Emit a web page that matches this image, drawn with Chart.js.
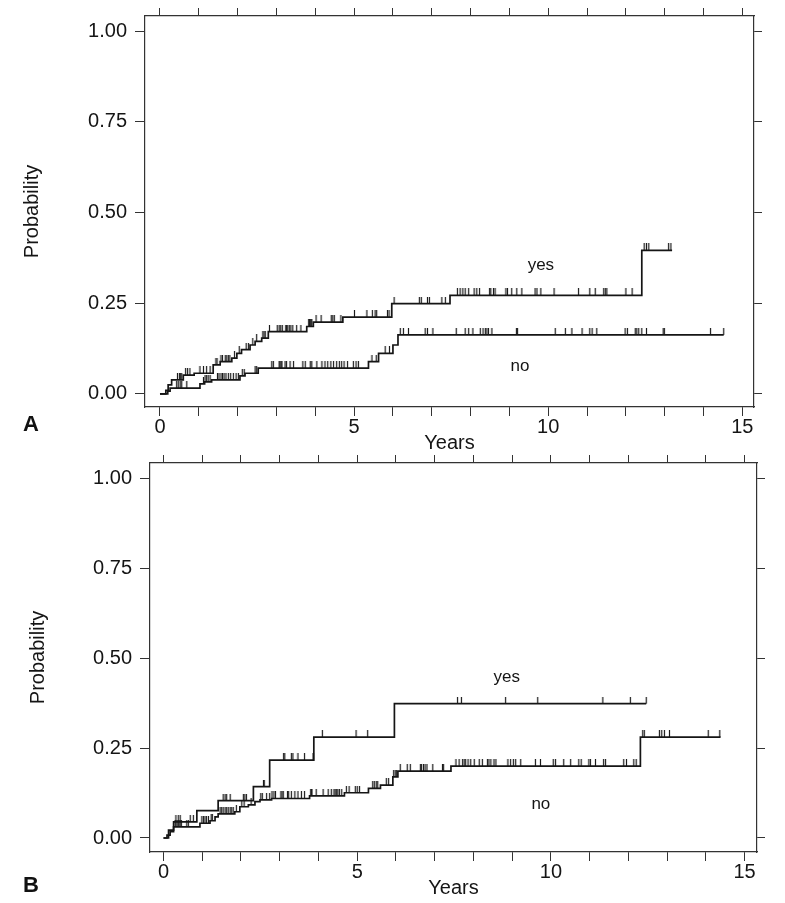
<!DOCTYPE html>
<html>
<head>
<meta charset="utf-8">
<script src="https://cdn.jsdelivr.net/npm/chart.js@4/dist/chart.umd.min.js"></script>
<style>
  body { margin: 0; background: #fff; }
  #wrap { position: relative; width: 785px; height: 903px; overflow: hidden; }
  canvas { position: absolute; left: 0; }
  .panel-tag { position: absolute; font: bold 22px "Liberation Sans", Arial, sans-serif; color: #111; }
</style>
</head>
<body>
<div id="wrap">
  <canvas id="chartA" width="785" height="456" style="top:0px"></canvas>
  <canvas id="chartB" width="785" height="467" style="top:436px"></canvas>
  <div class="panel-tag" style="left:23px; top:411px;">A</div>
  <div class="panel-tag" style="left:23px; top:872px;">B</div>
</div>
<script>
"use strict";

// axis ticks
const yearTicks = [0, 1, 2, 3, 4, 5, 6, 7, 8, 9, 10, 11, 12, 13, 14, 15];
const probTicks = [0, 0.25, 0.5, 0.75, 1];

// Panel A, "yes" group: step times and cumulative probability
const aYesTimes = [0, 0.15, 0.21, 0.30, 0.60, 0.88, 1.37, 1.55, 1.85, 1.98, 2.10, 2.32, 2.45, 2.62, 2.79, 3.78, 3.95, 4.71, 5.97, 7.47, 12.41, 13.19];
const aYesProbs = [0, 0.010, 0.025, 0.039, 0.052, 0.057, 0.080, 0.089, 0.099, 0.112, 0.122, 0.135, 0.145, 0.154, 0.172, 0.186, 0.198, 0.212, 0.249, 0.272, 0.396, 0.396];
const aYesCensor = [0.45, 0.50, 0.53, 0.56, 0.66, 0.71, 0.77, 1.03, 1.12, 1.20, 1.29, 1.44, 1.47,
  1.57, 1.61, 1.68, 1.72, 1.76, 1.80, 1.92, 2.04, 2.22, 2.28, 2.39, 2.49, 2.65, 2.68, 2.71,
  2.82, 3.02, 3.07, 3.11, 3.15, 3.24, 3.26, 3.29, 3.33, 3.37, 3.42, 3.52, 3.63,
  3.83, 3.85, 3.87, 3.89, 3.91, 4.02, 4.15, 4.41, 4.45, 4.49, 4.66,
  5.01, 5.33, 5.47, 5.54, 5.58, 5.86, 5.90, 6.03, 6.68, 6.73, 6.89, 6.94, 7.26, 7.35,
  7.66, 7.73, 7.80, 7.86, 7.95, 8.09, 8.16, 8.23, 8.49, 8.52, 8.59, 8.63, 8.91, 8.95, 9.06,
  9.19, 9.32, 9.66, 9.71, 9.81, 10.15, 10.78, 11.07, 11.21, 11.43, 11.47, 11.51, 12.00, 12.16,
  12.47, 12.53, 12.59, 13.10, 13.16];

// Panel A, "no" group
const aNoTimes = [0, 0.20, 0.26, 1.03, 1.15, 1.33, 2.06, 2.19, 2.53, 5.37, 5.63, 6.00, 6.13, 14.52];
const aNoProbs = [0, 0.008, 0.016, 0.028, 0.033, 0.039, 0.050, 0.057, 0.071, 0.089, 0.112, 0.135, 0.163, 0.163];
const aNoCensor = [0.43, 0.47, 0.52, 0.56, 0.69, 1.12, 1.16, 1.20, 1.24, 1.29,
  1.48, 1.52, 1.57, 1.61, 1.65, 1.70, 1.76, 1.82, 1.89, 1.96, 2.02, 2.12, 2.17, 2.45, 2.49,
  2.88, 2.92, 3.07, 3.09, 3.12, 3.14, 3.22, 3.26, 3.35, 3.44, 3.68, 3.74, 3.87, 3.91, 4.04,
  4.17, 4.25, 4.32, 4.40, 4.47, 4.55, 4.62, 4.68, 4.74, 4.83, 4.98, 5.05, 5.11,
  5.46, 5.57, 5.80, 5.91, 6.19, 6.27, 6.40, 6.83, 6.89, 7.03, 7.63, 7.86, 7.95, 8.06, 8.25,
  8.32, 8.38, 8.42, 8.46, 8.55, 9.18, 9.21, 10.18, 10.44, 10.61, 10.87, 11.07, 11.13, 11.25,
  11.98, 12.04, 12.24, 12.28, 12.33, 12.41, 12.53, 12.96, 12.99, 14.18, 14.52];

// Panel B, "yes" group
const bYesTimes = [0, 0.13, 0.26, 0.86, 1.41, 2.32, 2.74, 3.88, 5.96, 12.46];
const bYesProbs = [0, 0.022, 0.045, 0.076, 0.104, 0.143, 0.217, 0.281, 0.374, 0.374];
const bYesCensor = [0.32, 0.38, 0.43, 0.69, 0.77, 1.54, 1.59, 1.63, 1.72, 2.06, 2.10, 2.14,
  2.58, 2.60, 3.10, 3.13, 3.30, 3.34, 3.47, 3.64, 3.86, 4.10, 4.97, 5.27,
  7.59, 7.69, 8.83, 9.66, 11.34, 12.05, 12.46];

// Panel B, "no" group
const bNoTimes = [0, 0.09, 0.17, 0.26, 0.94, 1.20, 1.33, 1.41, 1.84, 1.97, 2.19, 2.36, 2.49, 2.79, 3.77, 4.67, 5.29, 5.60, 5.92, 6.05, 7.42, 12.31, 14.38];
const bNoProbs = [0, 0.008, 0.018, 0.031, 0.041, 0.048, 0.059, 0.067, 0.073, 0.087, 0.092, 0.101, 0.106, 0.110, 0.117, 0.126, 0.138, 0.147, 0.170, 0.186, 0.200, 0.281, 0.281];
const bNoCensor = [0.30, 0.32, 0.35, 0.38, 0.40, 0.43, 0.46, 0.60, 0.64, 0.99, 1.03, 1.07, 1.11,
  1.16, 1.23, 1.26, 1.46, 1.50, 1.54, 1.59, 1.63, 1.67, 1.72, 1.76, 1.80, 1.88, 2.02, 2.08, 2.26,
  2.51, 2.55, 2.66, 2.74, 2.80, 2.85, 2.89, 3.03, 3.06, 3.09, 3.20, 3.23, 3.30, 3.39, 3.47,
  3.56, 3.64, 3.80, 3.82, 3.83, 3.94, 4.12, 4.25, 4.33, 4.40, 4.43, 4.47, 4.50, 4.54, 4.60,
  4.72, 4.79, 4.95, 5.00, 5.06, 5.40, 5.44, 5.49, 5.53, 5.75, 5.81, 5.94, 5.98, 6.01,
  6.11, 6.29, 6.37, 6.63, 6.66, 6.71, 6.75, 6.80, 6.95, 7.20, 7.23,
  7.55, 7.63, 7.72, 7.76, 7.80, 7.86, 7.93, 8.02, 8.15, 8.23, 8.36, 8.40, 8.45, 8.53, 8.58,
  8.89, 8.96, 9.03, 9.09, 9.22, 9.60, 9.73, 10.06, 10.12, 10.33, 10.51, 10.72, 10.78, 10.98,
  11.02, 11.15, 11.36, 11.41, 11.88, 11.95, 12.14, 12.20, 12.37, 12.41, 12.80, 12.86, 12.93,
  13.06, 14.06, 14.36];

// group labels drawn inside the plots
const aLabels = [{text: 'yes', x: 9.81, y: 0.354}, {text: 'no', x: 9.27, y: 0.075}];
const bLabels = [{text: 'yes', x: 8.86, y: 0.447}, {text: 'no', x: 9.74, y: 0.094}];

const FONT = '"Liberation Sans", Arial, sans-serif';
const INK = '#151515';

function stepAt(times, probs, t) {
  let p = probs[0];
  for (let i = 0; i < times.length; i++)
    if (times[i] <= t + 1e-9) p = probs[i];
  return p;
}

// censoring tick: a short vertical stroke standing on the curve
function censorMark(h) {
  let c = document.createElement('canvas');
  c.width = 3;
  c.height = 2 * h;
  let g = c.getContext('2d');
  g.strokeStyle = '#1a1a1a';
  g.lineWidth = 1.2;
  g.beginPath();
  g.moveTo(1.5, 0);
  g.lineTo(1.5, h);
  g.stroke();
  return c;
}

const mark = censorMark(7);

function curveSets(times, probs, censor) {
  return [
    {
      type: 'line',
      data: times.map((t, i) => ({x: t, y: probs[i]})),
      stepped: true,
      borderColor: INK,
      borderWidth: 1.7,
      pointRadius: 0,
      fill: false
    },
    {
      type: 'scatter',
      data: censor.map(t => ({x: t, y: stepAt(times, probs, t)})),
      pointStyle: mark,
      pointRadius: 2,
      borderColor: '#222'
    }
  ];
}

const groupLabels = {
  id: 'groupLabels',
  afterDatasetsDraw(chart, args, opts) {
    const ctx = chart.ctx;
    ctx.save();
    ctx.font = '17px ' + FONT;
    ctx.fillStyle = INK;
    ctx.textAlign = 'center';
    ctx.textBaseline = 'middle';
    for (const l of opts.items || [])
      ctx.fillText(l.text, chart.scales.x.getPixelForValue(l.x), chart.scales.y.getPixelForValue(l.y));
    ctx.restore();
  }
};

function axis(position, min, max, ticks, size, extra) {
  let a = {
    type: 'linear',
    position: position,
    min: min,
    max: max,
    afterBuildTicks: s => { s.ticks = ticks.map(v => ({value: v})); },
    afterFit: s => {
      if (position === 'left' || position === 'right') s.width = size;
      else s.height = size;
      // the frame is fixed, so labels must not push the plot area around
      s.paddingTop = 0;
      s.paddingBottom = 0;
      s.paddingLeft = 0;
      s.paddingRight = 0;
    },
    grid: {drawOnChartArea: false, drawTicks: true, tickLength: 8, tickColor: '#333', tickWidth: 1},
    border: {display: true, color: '#333', width: 1.2},
    ticks: {display: false}
  };
  return Object.assign(a, extra || {});
}

function makePanel(canvasId, sets, labels, geo) {
  const font = {family: FONT, size: 20};
  const config = {
    data: {datasets: sets},
    options: {
      responsive: false,
      animation: false,
      devicePixelRatio: 1,
      layout: {padding: 0},
      plugins: {legend: {display: false}, tooltip: {enabled: false}, groupLabels: {items: labels}},
      scales: {
        x: axis('bottom', geo.xMin, geo.xMax, yearTicks, geo.bottom, {
          ticks: {display: true, color: INK, font: font, padding: -1, maxRotation: 0, autoSkip: false,
                  callback: v => (v % 5 === 0 ? String(v) : '')},
          title: {display: true, text: 'Years', color: INK, font: font, padding: {top: 0, bottom: geo.xTitlePad}}
        }),
        x2: axis('top', geo.xMin, geo.xMax, yearTicks, geo.top),
        y: axis('left', geo.yMin, geo.yMax, probTicks, geo.left, {
          ticks: {display: true, color: INK, font: font, padding: 8, callback: v => v.toFixed(2)},
          title: {display: true, text: 'Probability', color: INK, font: font, padding: {top: geo.yTitlePad, bottom: 0}}
        }),
        y2: axis('right', geo.yMin, geo.yMax, probTicks, geo.right)
      }
    },
    plugins: [groupLabels]
  };
  config.options.scales.x.grid.tickLength = 9;
  config.options.scales.y.grid.tickLength = 10;
  const ctx = document.getElementById(canvasId).getContext('2d');
  return new Chart(ctx, config);
}

makePanel('chartA',
  curveSets(aYesTimes, aYesProbs, aYesCensor).concat(curveSets(aNoTimes, aNoProbs, aNoCensor)),
  aLabels,
  {xMin: -0.386, xMax: 15.30, yMin: -0.036, yMax: 1.042,
   left: 145, right: 31, top: 16, bottom: 49, xTitlePad: 1, yTitlePad: 20});

makePanel('chartB',
  curveSets(bYesTimes, bYesProbs, bYesCensor).concat(curveSets(bNoTimes, bNoProbs, bNoCensor)),
  bLabels,
  {xMin: -0.349, xMax: 15.32, yMin: -0.039, yMax: 1.044,
   left: 150, right: 28, top: 27, bottom: 51, xTitlePad: 3, yTitlePad: 26});
</script>
</body>
</html>
